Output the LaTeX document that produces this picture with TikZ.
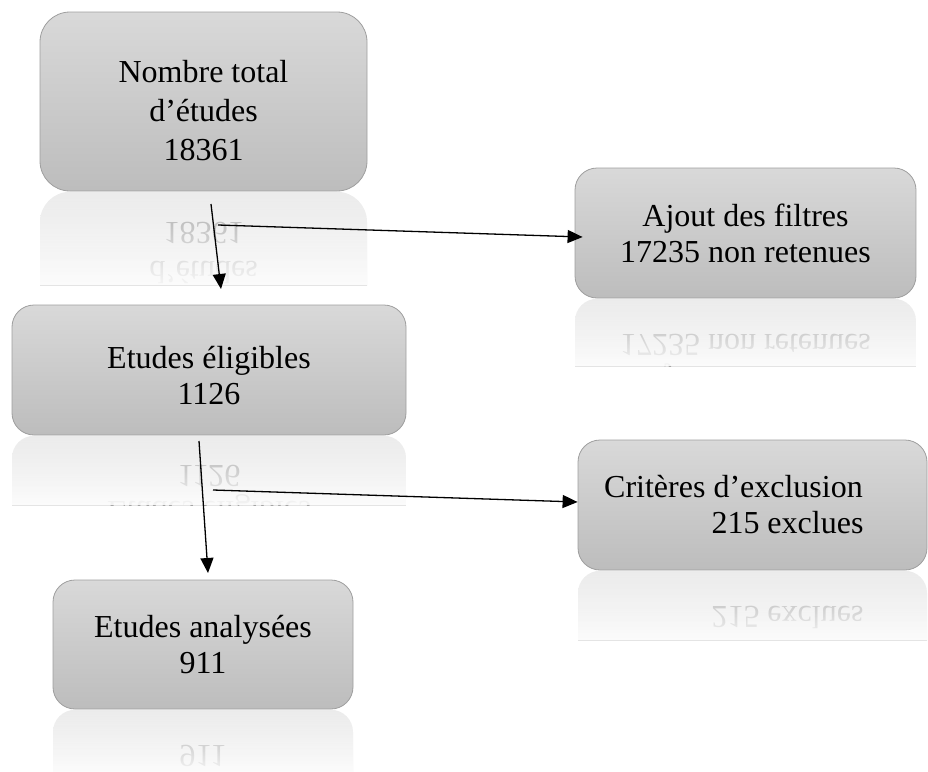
\documentclass[tikz,border=0pt]{standalone}
\usepackage{fontspec}
\setmainfont{Liberation Serif}
\usetikzlibrary{arrows.meta,fadings}

\tikzfading[name=fadeout, top color=transparent!100, bottom color=transparent!10]

\tikzset{
  box/.style={rounded corners=11pt, draw=black!38, top color=black!15, bottom color=black!26,
    align=center, inner sep=0pt, font=\fontsize{16}{18}\selectfont},
  mirror/.style={draw=none, yscale=-1, transform shape, anchor=south, opacity=0.5, text=black!60},
  tip/.style={-{Triangle[length=7.5pt,width=6.5pt]}, line width=0.65pt}
}

% box (#1 name, #2 size, #3 height of the reflection, #4 text) and its reflection
\newcommand{\mirrorbox}[4]{
  \begin{scope}
    \clip (#1.south west) rectangle ([yshift=-#3]#1.south east);
    \node[box, #2, mirror] at (#1.south) {#4};
    \fill[white, path fading=fadeout] (#1.south west) rectangle ([yshift=-#3]#1.south east);
  \end{scope}
}

\begin{document}
\begin{tikzpicture}[x=0.5pt, y=-0.5pt]
      \useasboundingbox (0,0) rectangle (928,772);

      % boxes
      \node (Tot) [box, rounded corners=15pt, minimum width=163.5pt, minimum height=89.5pt,
          font=\fontsize{16}{19.5}\selectfont] at (203.5,101.5)
          {\rule{0pt}{20pt}Nombre total\\d’études\\18361};
      \node (Fil) [box, minimum width=170.5pt, minimum height=65pt] at (745.5,233)
          {Ajout des filtres\\17235 non retenues};
      \node (Eli) [box, minimum width=197pt, minimum height=65pt] at (209,370)
          {\rule{0pt}{17pt}Etudes éligibles\\1126};
      \node (Exc) [box, minimum width=174.5pt, minimum height=65pt] at (752.5,505)
          {Critères d’exclusion\hspace*{19pt}\\\hspace*{35pt}215 exclues};
      \node (Ana) [box, minimum width=150pt, minimum height=64.5pt] at (203,644.5)
          {Etudes analysées\\911};

      % reflections
      \mirrorbox{Tot}{rounded corners=15pt, minimum width=163.5pt, minimum height=89.5pt,
          font=\fontsize{16}{19.5}\selectfont}{47pt}{\rule{0pt}{20pt}Nombre total\\d’études\\18361}
      \mirrorbox{Fil}{minimum width=170.5pt, minimum height=65pt}{34pt}{Ajout des filtres\\17235 non retenues}
      \mirrorbox{Eli}{minimum width=197pt, minimum height=65pt}{35pt}{\rule{0pt}{17pt}Etudes éligibles\\1126}
      \mirrorbox{Exc}{minimum width=174.5pt, minimum height=65pt}{35pt}{Critères d’exclusion\hspace*{19pt}\\\hspace*{35pt}215 exclues}
      \mirrorbox{Ana}{minimum width=150pt, minimum height=64.5pt}{32pt}{Etudes analysées\\911}

      % arrows
      \coordinate (P1) at (211,204);
      \coordinate (P2) at (221,289);
      \coordinate (P3) at (218,225);
      \coordinate (P4) at (199,441);
      \coordinate (P5) at (208,573);
      \coordinate (P6) at (213,490);

      \draw[tip] (P1) -- (P2);
      \draw[tip] (P3) -- ([xshift=4pt,yshift=-2pt]Fil.west);
      \draw[tip] (P4) -- (P5);
      \draw[tip] (P6) -- ([yshift=1.5pt]Exc.west);
\end{tikzpicture}
\end{document}
